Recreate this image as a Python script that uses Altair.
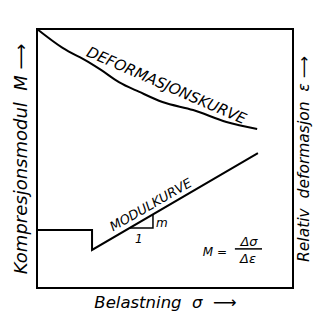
import altair as alt
import pandas as pd

FONT = "DejaVu Sans"
NB = "\u00a0"

# Deformation curve (chart units 0-100 on both axes)
def_x = [0, 10, 20, 25, 32, 40, 49, 61, 74, 86]
def_y = [100, 92.7, 87.3, 84.2, 79.5, 75.7, 71.8, 68.7, 64.1, 61.4]

# Modulus curve
mod_x = [0, 21.5, 21.5, 86.3]
mod_y = [22.4, 22.4, 14.7, 52.1]

# Slope triangle (1 : m)
tri_x = [36.3, 45.3, 45.3]
tri_y = [23.2, 23.2, 28.4]

# Fraction bar of M = Δσ/Δε
frac_x = [77.3]
frac_x2 = [87.9]
frac_y = [15.1]

# Annotations
lab_text = ["DEFORMASJONSKURVE", "MODULKURVE", "m", "1", "M =", "Δσ", "Δε"]
lab_x = [50.6, 44.5, 48.8, 39.8, 69.5, 82.8, 82.4]
lab_y = [78.2, 32.0, 25.1, 18.9, 13.9, 17.8, 11.2]
lab_angle = [23.5, 330, 0, 0, 0, 0, 0]
lab_size = [15, 13, 12, 12, 12, 13, 13]

x_title = "Belastning" + NB + NB + "σ" + NB + NB + "⟶"
yl_title = "Kompresjonsmodul" + NB + NB + "M" + NB + "⟶"
yr_title = "Relativ" + NB + NB + "deformasjon" + NB + NB + "ε" + NB + "⟶"

df_def = pd.DataFrame({"x": def_x, "y": def_y, "i": range(len(def_x))})
df_mod = pd.DataFrame({"x": mod_x, "y": mod_y, "i": range(len(mod_x))})
df_tri = pd.DataFrame({"x": tri_x, "y": tri_y, "i": range(len(tri_x))})
df_frac = pd.DataFrame({"x": frac_x, "x2": frac_x2, "y": frac_y})
df_lab = pd.DataFrame({"t": lab_text, "x": lab_x, "y": lab_y,
                       "a": lab_angle, "s": lab_size})

xs = alt.Scale(domain=[0, 100], nice=False, zero=False)
ys = alt.Scale(domain=[0, 100], nice=False, zero=False)

x_axis = alt.Axis(title=x_title, labels=False, ticks=False,
                  domain=False, grid=False, titlePadding=6, titleFontSize=16.5)
y_left = alt.Axis(title=yl_title, orient="left", labels=False,
                  ticks=False, domain=False, grid=False, titlePadding=7,
                  titleFontSize=18)
y_right = alt.Axis(title=yr_title, orient="right",
                   labels=False, ticks=False, domain=False, grid=False,
                   titlePadding=3, titleAngle=270, titleBaseline="top",
                   titleFontSize=15.5)

deform = alt.Chart(df_def).mark_line(
    color="black", strokeWidth=2, interpolate="monotone"
).encode(
    x=alt.X("x:Q", scale=xs, axis=x_axis),
    y=alt.Y("y:Q", scale=ys, axis=y_right),
    order="i:Q",
)

modul = alt.Chart(df_mod).mark_line(color="black", strokeWidth=2).encode(
    x=alt.X("x:Q", scale=xs, axis=x_axis),
    y=alt.Y("y:Q", scale=ys, axis=y_left),
    order="i:Q",
)

tri = alt.Chart(df_tri).mark_line(color="black", strokeWidth=1.5).encode(
    x=alt.X("x:Q", scale=xs, axis=x_axis),
    y=alt.Y("y:Q", scale=ys, axis=None),
    order="i:Q",
)

frac = alt.Chart(df_frac).mark_rule(color="black", strokeWidth=1.5).encode(
    x=alt.X("x:Q", scale=xs, axis=x_axis),
    x2="x2:Q",
    y=alt.Y("y:Q", scale=ys, axis=None),
)

labels = alt.Chart(df_lab).mark_text(
    font=FONT, fontStyle="italic", color="black", align="center",
    baseline="middle"
).encode(
    x=alt.X("x:Q", scale=xs, axis=x_axis),
    y=alt.Y("y:Q", scale=ys, axis=None),
    text="t:N",
    angle=alt.Angle("a:Q", scale=None),
    size=alt.Size("s:Q", scale=None),
)

chart = alt.layer(deform, modul, tri, frac, labels).resolve_axis(
    y="independent"
).properties(
    width=256, height=259,
    autosize=alt.AutoSizeParams(type="none"),
    padding={"left": 29, "top": 21, "right": 20, "bottom": 24},
).configure_view(
    stroke="black", strokeWidth=2
).configure_axis(
    titleFont=FONT, titleFontStyle="italic", titleFontWeight="normal",
    titleColor="black"
)

chart.save("out.html", embed_options={"renderer": "svg", "actions": False})
